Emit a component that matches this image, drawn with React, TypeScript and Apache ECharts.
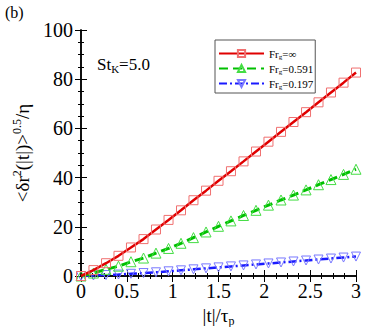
import React, { useEffect, useRef } from "react";
import * as echarts from "echarts";

const T = [0, 0.136, 0.273, 0.409, 0.545, 0.682, 0.818, 0.955, 1.091, 1.227, 1.364, 1.5, 1.636, 1.773, 1.909, 2.045, 2.182, 2.318, 2.455, 2.591, 2.727, 2.864, 3.0];
const redVals = [0, 2.4, 5.2, 8.2, 11.6, 15.0, 18.9, 22.8, 26.7, 30.8, 34.7, 38.7, 42.6, 46.6, 50.6, 54.6, 58.6, 62.6, 66.6, 70.6, 74.6, 78.6, 82.7];
const greenVals = [0, 1.2, 2.7, 4.0, 5.8, 7.3, 9.3, 11.2, 13.3, 15.6, 17.9, 20.2, 22.4, 24.6, 26.7, 28.8, 30.9, 32.9, 35.0, 37.1, 39.2, 41.3, 43.4];
const blueVals = [0, 0.2, 0.4, 0.6, 0.9, 1.2, 1.5, 1.9, 2.3, 2.7, 3.1, 3.5, 3.9, 4.3, 4.7, 5.1, 5.5, 5.9, 6.3, 6.7, 7.1, 7.5, 7.9];
const seriesNames = ["Fr_g=∞", "Fr_g=0.591", "Fr_g=0.197"];
const legendLabels: Record<string, string> = {
  "Fr_g=∞": "{t|Fr}{s|g}{t|=∞}",
  "Fr_g=0.591": "{t|Fr}{s|g}{t|=0.591}",
  "Fr_g=0.197": "{t|Fr}{s|g}{t|=0.197}",
};

const FONT = "Liberation Serif";

export default function App() {
  const ref = useRef<HTMLDivElement>(null);
  useEffect(() => {
    document.body.style.margin = "0";
    const chart = echarts.init(ref.current!, undefined, { renderer: "svg" });
    const pairs = (vals: number[]) => T.map((t, i) => [t, vals[i]]);
    const axisLine = { show: true, lineStyle: { color: "#000", width: 1.5 } };
    const ticks = {
      axisTick: { show: true, inside: true, length: 6, lineStyle: { color: "#000", width: 1 } },
      minorTick: { show: true, splitNumber: 4, length: 3, lineStyle: { color: "#000", width: 1 } },
      splitLine: { show: false },
    };
    const nameRich = {
      a: { fontFamily: FONT, fontSize: 19, color: "#000", lineHeight: 24, verticalAlign: "middle" },
      sup: { fontFamily: FONT, fontSize: 12, color: "#000", lineHeight: 12, verticalAlign: "top" },
      sub: { fontFamily: FONT, fontSize: 12, color: "#000", lineHeight: 12, verticalAlign: "bottom" },
    };
    const tickRich = { v: { fontFamily: FONT, fontSize: 20, color: "#000" } };
    const bottomLabel = {
      show: true, margin: 5, color: "#000", fontFamily: FONT, fontSize: 20,
      formatter: (v: number) => `{v|${v}}`, rich: tickRich,
    };
    const leftLabel = {
      show: true, margin: 8, color: "#000", fontFamily: FONT, fontSize: 20,
      formatter: (v: number) => `{v|${v}}`, rich: tickRich,
    };
    chart.setOption({
      animation: false,
      textStyle: { fontFamily: FONT, color: "#000" },
      grid: { left: 81, right: 12, top: 30, bottom: 51, containLabel: false, outerBoundsMode: "none" },
      xAxis: [
        {
          type: "value", min: 0, max: 3, interval: 0.5, position: "bottom",
          axisLine, ...ticks,
          axisLabel: bottomLabel,
          name: "{a||t|/τ}{sub|p}", nameLocation: "middle", nameGap: 24,
          nameTextStyle: { fontFamily: FONT, color: "#000", rich: nameRich },
        },
        {
          type: "value", min: 0, max: 3, interval: 0.5, position: "top",
          axisLine, ...ticks, axisLabel: { show: false },
        },
      ],
      yAxis: [
        {
          type: "value", min: 0, max: 100, interval: 20, position: "left",
          axisLine, ...ticks,
          axisLabel: leftLabel,
          name: "{a|<δr}{sup|2}{a|(|t|)>}{sup|0.5}{a|/η}", nameLocation: "middle", nameGap: 36, nameRotate: 90,
          nameTextStyle: { fontFamily: FONT, color: "#000", rich: nameRich },
        },
        {
          type: "value", min: 0, max: 100, interval: 20, position: "right",
          axisLine, ...ticks, axisLabel: { show: false },
        },
      ],
      legend: {
        orient: "vertical", left: 215, top: 40,
        padding: [8, 2, 3, 3], itemGap: 3, itemWidth: 45, itemHeight: 9,
        borderColor: "#555", borderWidth: 1, backgroundColor: "#fff",
        data: seriesNames,
        formatter: (n: string) => legendLabels[n],
        textStyle: {
          rich: {
            t: { fontFamily: FONT, fontSize: 11, color: "#000", lineHeight: 13, verticalAlign: "middle" },
            s: { fontFamily: FONT, fontSize: 7, color: "#000", lineHeight: 7, verticalAlign: "bottom" },
          },
        },
      },
      graphic: [
        { type: "text", left: 5, top: 4, style: { text: "(b)", fontFamily: FONT, fontSize: 16, fill: "#000" } },
        {
          type: "text", left: 97, top: 56,
          style: {
            text: "{a|St}{b|K}{a|=5.0}",
            rich: {
              a: { fontFamily: FONT, fontSize: 17, fill: "#000", lineHeight: 20, verticalAlign: "middle" },
              b: { fontFamily: FONT, fontSize: 11, fill: "#000", lineHeight: 11, verticalAlign: "bottom" },
            },
          },
        },
      ],
      series: [
        {
          name: seriesNames[0], type: "line", data: pairs(redVals), clip: false,
          symbol: "rect", symbolSize: 9, xAxisIndex: 0, yAxisIndex: 0,
          lineStyle: { color: "#e00000", width: 2.5, type: "solid" },
          itemStyle: { color: "rgba(255,255,255,0)", borderColor: "#f07070", borderWidth: 1 },
          z: 4,
        },
        {
          name: seriesNames[1], type: "line", data: pairs(greenVals), clip: false,
          symbol: "triangle", symbolSize: 10, xAxisIndex: 0, yAxisIndex: 0,
          lineStyle: { color: "#00c000", width: 3, type: [9, 5] },
          itemStyle: { color: "rgba(255,255,255,0)", borderColor: "#44dd44", borderWidth: 1 },
          z: 3,
        },
        {
          name: seriesNames[2], type: "line", data: pairs(blueVals), clip: false,
          symbol: "triangle", symbolRotate: 180, symbolSize: 9, xAxisIndex: 0, yAxisIndex: 0,
          lineStyle: { color: "#1a1aff", width: 2.5, type: [8, 3, 2, 3] },
          itemStyle: { color: "rgba(255,255,255,0)", borderColor: "#7878ff", borderWidth: 1 },
          z: 2,
        },
      ],
    });
    return () => chart.dispose();
  }, []);
  return <div ref={ref} style={{ width: 368, height: 327 }} />;
}
